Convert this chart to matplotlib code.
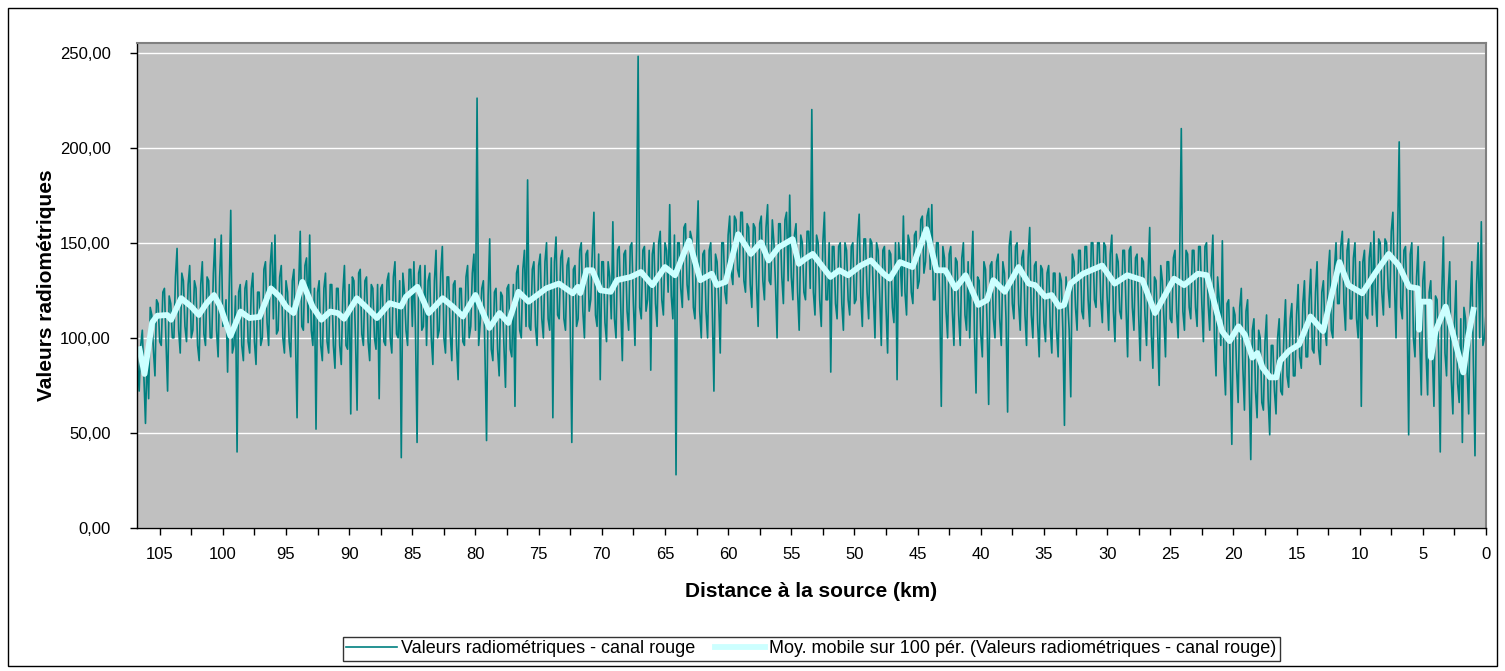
import numpy as np
import matplotlib.pyplot as plt
from matplotlib.patches import Rectangle
from matplotlib.ticker import MultipleLocator, FuncFormatter

plt.rcParams['font.family'] = ['Liberation Sans', 'DejaVu Sans']

# valeurs radiométriques (canal rouge), un point tous les 125 m, de 106,875 km à 0 km
canal_rouge = [
    110, 88, 72, 96, 104, 80, 55, 92,         # 106
    68, 116, 112, 94, 80, 120, 118, 98,       # 105
    96, 124, 126, 98, 72, 122, 118, 100,      # 104
    100, 132, 147, 104, 92, 134, 130, 106,    # 103
    98, 128, 138, 100, 104, 130, 126, 96,     # 102
    88, 128, 140, 102, 96, 132, 130, 100,     # 101
    100, 134, 152, 104, 90, 132, 154, 106,    # 100
    108, 120, 82, 124, 167, 92, 96, 122,      # 99
    40, 124, 128, 96, 88, 126, 130, 98,       # 98
    92, 126, 134, 98, 86, 124, 124, 96,       # 97
    100, 136, 140, 108, 96, 138, 150, 110,    # 96
    154, 102, 104, 132, 138, 100, 92, 130,    # 95
    124, 98, 90, 130, 136, 100, 58, 126,      # 94
    156, 106, 104, 138, 142, 108, 154, 104,   # 93
    96, 126, 52, 124, 130, 96, 88, 126,       # 92
    134, 98, 92, 128, 128, 96, 84, 126,       # 91
    126, 96, 86, 124, 138, 96, 94, 128,       # 90
    60, 132, 130, 100, 62, 134, 136, 102,     # 89
    96, 130, 132, 98, 88, 128, 126, 100,      # 88
    94, 128, 68, 126, 128, 98, 96, 130,       # 87
    134, 100, 92, 132, 140, 102, 100, 130,    # 86
    37, 134, 124, 104, 96, 136, 136, 106,     # 85
    140, 104, 45, 134, 138, 104, 106, 138,    # 84
    96, 130, 134, 100, 86, 130, 146, 100,     # 83
    104, 134, 148, 100, 92, 132, 132, 102,    # 82
    88, 128, 130, 96, 78, 126, 126, 98,       # 81
    96, 132, 138, 100, 106, 134, 144, 104,    # 80
    226, 96, 108, 126, 130, 92, 46, 122,      # 79
    152, 94, 88, 124, 126, 94, 80, 124,       # 78
    122, 96, 74, 126, 128, 94, 90, 128,       # 77
    64, 134, 138, 104, 100, 136, 146, 106,    # 76
    183, 106, 104, 136, 140, 106, 96, 138,    # 75
    144, 110, 100, 140, 150, 110, 104, 142,   # 74
    58, 140, 153, 112, 110, 142, 146, 110,    # 73
    104, 138, 142, 108, 45, 136, 138, 106,    # 72
    110, 146, 150, 114, 100, 144, 146, 114,   # 71
    120, 146, 166, 112, 106, 144, 78, 140,    # 70
    140, 108, 98, 140, 132, 110, 161, 110,    # 69
    100, 146, 148, 116, 88, 144, 146, 114,    # 68
    104, 148, 150, 118, 96, 146, 248, 116,    # 67
    110, 146, 148, 114, 120, 146, 83, 144,    # 66
    150, 118, 106, 150, 156, 120, 112, 150,   # 65
    146, 124, 170, 122, 110, 154, 28, 150,    # 64
    150, 126, 116, 158, 160, 128, 120, 156,   # 63
    152, 116, 110, 146, 172, 114, 100, 144,   # 62
    146, 114, 100, 146, 150, 114, 72, 144,    # 61
    140, 120, 92, 150, 150, 124, 118, 154,    # 60
    164, 134, 128, 164, 162, 136, 132, 166,   # 59
    166, 130, 124, 160, 158, 128, 116, 160,   # 58
    158, 128, 106, 160, 164, 130, 120, 158,   # 57
    170, 130, 128, 162, 150, 128, 100, 160,   # 56
    160, 132, 118, 162, 166, 130, 175, 132,   # 55
    120, 154, 160, 124, 104, 154, 150, 124,   # 54
    120, 156, 156, 126, 220, 124, 112, 154,   # 53
    150, 120, 106, 150, 166, 120, 120, 150,   # 52
    82, 148, 148, 118, 110, 148, 150, 118,    # 51
    104, 150, 146, 120, 112, 148, 150, 118,   # 50
    120, 152, 165, 122, 106, 152, 152, 124,   # 49
    110, 152, 150, 122, 100, 150, 146, 122,   # 48
    96, 146, 148, 116, 92, 146, 144, 116,     # 47
    108, 150, 78, 150, 140, 122, 164, 124,    # 46
    112, 154, 150, 124, 118, 154, 156, 126,   # 45
    130, 162, 164, 134, 140, 164, 168, 136,   # 44
    170, 120, 120, 150, 150, 120, 64, 148,    # 43
    142, 114, 100, 144, 148, 114, 96, 142,    # 42
    140, 112, 96, 142, 150, 112, 104, 140,    # 41
    100, 134, 156, 102, 71, 132, 130, 102,    # 40
    90, 140, 136, 108, 65, 138, 140, 110,     # 39
    100, 140, 144, 110, 96, 140, 134, 110,    # 38
    61, 148, 156, 118, 110, 148, 150, 118,    # 37
    104, 142, 146, 112, 96, 142, 158, 112,    # 36
    100, 138, 140, 108, 90, 138, 136, 108,    # 35
    98, 134, 138, 106, 92, 134, 134, 104,     # 34
    90, 134, 130, 104, 54, 132, 120, 104,     # 33
    69, 144, 140, 116, 104, 146, 146, 114,    # 32
    110, 148, 148, 120, 106, 150, 150, 120,   # 31
    116, 150, 150, 120, 108, 150, 148, 122,   # 30
    104, 144, 154, 114, 98, 144, 140, 114,    # 29
    110, 146, 146, 116, 90, 146, 148, 116,    # 28
    104, 142, 144, 112, 88, 142, 140, 112,    # 27
    96, 134, 158, 102, 84, 132, 130, 104,     # 26
    75, 138, 130, 110, 90, 140, 140, 110,     # 25
    108, 142, 146, 114, 100, 144, 210, 114,   # 24
    104, 146, 144, 116, 110, 146, 146, 116,   # 23
    106, 148, 148, 118, 98, 148, 150, 118,    # 22
    104, 136, 154, 100, 80, 132, 120, 96,     # 21
    151, 88, 70, 118, 120, 86, 44, 116,       # 20
    112, 84, 66, 116, 126, 84, 62, 114,       # 19
    120, 76, 36, 104, 110, 72, 58, 104,       # 18
    100, 66, 62, 98, 112, 68, 49, 96,         # 17
    96, 72, 60, 100, 110, 72, 70, 102,        # 16
    120, 80, 74, 110, 118, 80, 80, 112,       # 15
    128, 90, 84, 118, 130, 90, 90, 120,       # 14
    136, 94, 92, 124, 140, 94, 86, 124,       # 13
    130, 104, 96, 134, 146, 104, 100, 136,    # 12
    150, 118, 118, 148, 156, 118, 104, 146,   # 11
    152, 110, 110, 142, 150, 110, 100, 140,   # 10
    64, 140, 146, 112, 110, 142, 150, 112,    # 9
    156, 122, 106, 152, 150, 124, 112, 152,   # 8
    150, 126, 116, 156, 166, 128, 100, 154,   # 7
    203, 116, 110, 146, 148, 114, 49, 144,    # 6
    150, 100, 90, 132, 148, 100, 70, 130,     # 5
    140, 92, 70, 124, 130, 92, 64, 122,       # 4
    120, 92, 40, 124, 153, 92, 80, 124,       # 3
    140, 78, 60, 108, 130, 76, 66, 110,       # 2
    45, 116, 110, 84, 60, 118, 140, 86,       # 1
    38, 128, 150, 100, 161, 96, 100, 113,     # 0
]

# moyenne mobile sur 100 périodes (km, valeur)
mm_km = [106.6, 106.2, 105.6, 105.2, 104.4, 104.1, 103.3, 102.5, 101.9, 101.3,
         100.7, 100.2, 99.4, 98.6, 97.9, 97.1, 96.2, 95.5, 95.0, 94.4,
         93.7, 92.9, 92.2, 91.5, 90.9, 90.4, 89.4, 88.7, 87.8, 86.8,
         85.9, 85.5, 84.6, 83.7, 82.6, 81.8, 81.0, 80.0, 78.9, 78.1,
         77.4, 76.6, 75.8, 74.4, 73.4, 72.3, 71.9, 71.7, 71.2, 70.75,
         70.1, 69.3, 68.8, 67.7, 66.9, 66.0, 65.0, 64.2, 63.1, 62.2,
         61.3, 60.9, 60.2, 59.2, 58.2, 57.4, 56.8, 56.0, 54.9, 54.4,
         53.9, 53.3, 52.7, 51.9, 51.2, 50.5, 49.5, 48.7, 47.7, 47.2,
         46.4, 45.4, 44.3, 43.5, 42.8, 42.0, 41.2, 40.2, 39.5, 39.0,
         38.1, 37.0, 36.2, 35.7, 34.9, 34.4, 33.8, 33.4, 32.9, 31.9,
         30.4, 29.4, 28.4, 27.2, 26.2, 24.7, 23.9, 22.8, 22.1, 20.9,
         20.3, 19.6, 19.1, 18.5, 18.1, 17.7, 17.1, 16.6, 16.3, 15.6,
         14.8, 13.9, 12.9, 11.6, 10.9, 9.8, 8.8, 7.7, 6.9, 6.1,
         5.4, 5.3, 5.2, 4.45, 4.35, 4.0, 3.2, 1.8, 1.4, 1.0]
mm_val = [94, 81, 108, 111.6, 112, 109.5, 120.8, 116.4, 112, 118,
          122.5, 116.4, 100.9, 113.8, 110.4, 111, 126, 121.6, 116.4, 113,
          129.4, 116.4, 109.5, 113.8, 113, 110, 120.8, 116.4, 110.4, 118.2,
          116.4, 121.6, 126.8, 113, 120.8, 116.4, 111.2, 122.5, 105.2, 113,
          107.8, 124.2, 119, 126, 128.5, 123.4, 126.8, 123.5, 135.5, 135.5,
          125, 124.2, 130.3, 132, 134.6, 127.7, 137.2, 132.9, 151, 130.3,
          133.7, 127.7, 129.4, 154.5, 144.1, 150.2, 140.7, 147.6, 151.9, 138.9,
          141.5, 144.1, 138.9, 132, 135.5, 132.9, 138, 140.7, 133.7, 131.1,
          139.8, 137.2, 157.1, 135.5, 135.5, 126, 132.9, 117.3, 119.9, 130.3,
          124.2, 137.2, 128.5, 127.7, 121.6, 122.5, 116.4, 117.3, 128.5, 133.7,
          138, 128.5, 132.9, 130.3, 113, 131.1, 127.7, 133.7, 132.9, 103.5,
          98.3, 106, 101.7, 89.6, 92, 84.4, 79.2, 79.2, 87.9, 93.1,
          96.5, 111.2, 103.5, 139.8, 127.7, 123.4, 133.7, 144.1, 138, 126.8,
          126, 104.3, 119, 119, 89.6, 103.5, 116.4, 81.8, 100.9, 114.7]

distance = np.linspace(106.875, 0, len(canal_rouge))

fig = plt.figure(figsize=(15.05, 6.71), dpi=100)
ax = fig.add_axes([0.091, 0.2131, 0.8964, 0.7228])
ax.set_facecolor('#C0C0C0')

ax.plot(distance, canal_rouge, color='#008080', lw=1.2,
        label='Valeurs radiométriques - canal rouge')
ax.plot(mm_km, mm_val, color='#CCFFFF', lw=4.2, solid_joinstyle='round',
        label='Moy. mobile sur 100 pér. (Valeurs radiométriques - canal rouge)')

ax.set_xlim(106.8, 0)
ax.set_ylim(0, 255)
ax.xaxis.set_major_locator(MultipleLocator(5))
ax.xaxis.set_minor_locator(MultipleLocator(2.5))
ax.yaxis.set_major_locator(MultipleLocator(50))
ax.xaxis.set_major_formatter(FuncFormatter(lambda v, p: f"{v:.0f}"))
ax.yaxis.set_major_formatter(FuncFormatter(lambda v, p: f"{v:.2f}".replace(".", ",")))
ax.yaxis.grid(True, color='white', lw=1)
ax.set_axisbelow(True)

ax.tick_params(axis='both', which='both', direction='out', length=5, width=1,
               labelsize=12, colors='black')
ax.tick_params(axis='x', pad=9)
ax.tick_params(axis='y', pad=14)
for side in ['left', 'bottom']:
    ax.spines[side].set_color('black')
    ax.spines[side].set_linewidth(1)
for side in ['top', 'right']:
    ax.spines[side].set_color('#808080')
    ax.spines[side].set_linewidth(1.5)

ax.set_xlabel('Distance à la source (km)', fontsize=15, fontweight='bold', labelpad=14)
ax.set_ylabel('Valeurs radiométriques', fontsize=15, fontweight='bold', labelpad=3)

leg = fig.legend(loc='center', bbox_to_anchor=(0.539, 0.033), ncol=2, fontsize=13,
                 frameon=True, fancybox=False, shadow=False, borderpad=0.2,
                 handlelength=2.8, handletextpad=0.2, columnspacing=1.1,
                 borderaxespad=0)
leg.get_frame().set_edgecolor('black')
leg.get_frame().set_linewidth(1)

# cadre du graphique
fig.patches.append(Rectangle((8 / 1505, 5 / 671), 1489 / 1505, 658 / 671,
                             transform=fig.transFigure, fill=False,
                             edgecolor='black', lw=1))

plt.savefig('out.png', dpi=100)
